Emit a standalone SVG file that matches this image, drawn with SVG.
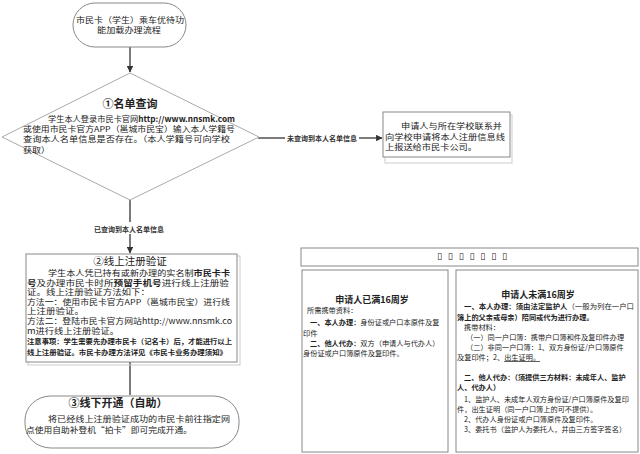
<svg xmlns="http://www.w3.org/2000/svg" width="640" height="454" viewBox="0 0 640 454">
<defs>
<style>
text{font-family:"Noto Sans CJK SC","Liberation Sans",sans-serif;fill:#222;}
.t9{font-size:8px;}
.t95{font-size:8px;}
.t7{font-size:7.2px;}
.note{font-size:7px;font-weight:bold;}
.lbl{font-size:7px;font-weight:bold;fill:#333;}
.title{font-size:11px;}
.b{font-weight:bold;}
.mid{text-anchor:middle;}
.box{fill:#fff;stroke:#888;stroke-width:1;}
.shadow{fill:none;stroke:#ccc;stroke-width:1;}
.con{stroke:#333;stroke-width:1.3;fill:none;}
</style>
<marker id="arr" viewBox="0 0 6 6" refX="5.5" refY="3" markerWidth="5" markerHeight="5" orient="auto">
<path d="M0,0 L6,3 L0,6 z" fill="#333"/>
</marker>
</defs>
<rect width="640" height="454" fill="#fff"/>

<g id="connectors">
<line class="con" x1="130" y1="47" x2="130" y2="72" marker-end="url(#arr)"/>
<line class="con" x1="258" y1="138" x2="285" y2="138"/>
<line class="con" x1="359" y1="138" x2="382" y2="138" marker-end="url(#arr)"/>
<text class="lbl" x="322" y="140.5" text-anchor="middle">未查询到本人名单信息</text>
<line class="con" x1="130" y1="200" x2="130" y2="222"/>
<line class="con" x1="130" y1="234" x2="130" y2="253" marker-end="url(#arr)"/>
<text class="lbl" x="129" y="231.5" text-anchor="middle">已查询到本人名单信息</text>
<line class="con" x1="130" y1="362" x2="130" y2="395" stroke-width="2"/>
</g>

<g id="start">
<rect class="box" x="73" y="3" width="113" height="44" rx="22" ry="22" stroke="#999"/>
<text class="t9 mid" x="130" y="23" textLength="108" lengthAdjust="spacingAndGlyphs">市民卡（学生）乘车优待功</text>
<text class="t9 mid" x="129" y="33" textLength="64" lengthAdjust="spacingAndGlyphs">能加载办理流程</text>
</g>

<g id="query">
<polygon points="130,73 259,137 130,200 2,137" fill="#fff" stroke="#aaa" stroke-width="1"/>
<text class="title b mid" x="130" y="108">①名单查询</text>
<text class="t9" x="48" y="122" textLength="187" lengthAdjust="spacingAndGlyphs">学生本人登录市民卡官网<tspan class="b">http://www.nnsmk.com</tspan></text>
<text class="t9" x="23" y="132" textLength="212" lengthAdjust="spacingAndGlyphs">或使用市民卡官方APP（邕城市民宝）输入本人学籍号</text>
<text class="t9" x="23" y="142" textLength="207" lengthAdjust="spacingAndGlyphs">查询本人名单信息是否存在。（本人学籍号可向学校</text>
<text class="t9" x="23" y="153" textLength="27" lengthAdjust="spacingAndGlyphs">获取）</text>
</g>

<g id="school">
<rect class="shadow" x="385" y="115" width="127" height="48"/>
<rect class="box" x="383" y="112" width="127" height="45"/>
<text class="t9" x="401" y="129" textLength="101" lengthAdjust="spacingAndGlyphs">申请人与所在学校联系并</text>
<text class="t9" x="385" y="140" textLength="120" lengthAdjust="spacingAndGlyphs">向学校申请将本人注册信息线</text>
<text class="t9" x="385" y="150" textLength="92" lengthAdjust="spacingAndGlyphs">上报送给市民卡公司。</text>
</g>

<g id="register">
<rect class="shadow" x="28" y="256" width="212" height="109"/>
<rect class="box" x="26" y="254" width="211" height="108"/>
<text class="mid" x="130" y="265" style="font-size:10.5px">②线上注册验证</text>
<text class="t95" x="48" y="276" textLength="182" lengthAdjust="spacingAndGlyphs">学生本人凭已持有或新办理的实名制<tspan class="b">市民卡卡</tspan></text>
<text class="t95" x="27" y="285.5" textLength="202" lengthAdjust="spacingAndGlyphs"><tspan class="b">号</tspan>及办理市民卡时所<tspan class="b">预留手机号</tspan>进行线上注册验</text>
<text class="t95" x="27" y="295" textLength="123" lengthAdjust="spacingAndGlyphs">证。线上注册验证方法如下：</text>
<text class="t95" x="27" y="304.5" textLength="203" lengthAdjust="spacingAndGlyphs">方法一：使用市民卡官方APP（邕城市民宝）进行线</text>
<text class="t95" x="27" y="314" textLength="57" lengthAdjust="spacingAndGlyphs">上注册验证。</text>
<text class="t95" x="27" y="323.5" textLength="205" lengthAdjust="spacingAndGlyphs">方法二：登陆市民卡官方网站http://www.nnsmk.co</text>
<text class="t95" x="27" y="333.5" textLength="92" lengthAdjust="spacingAndGlyphs">m进行线上注册验证。</text>
<text class="note" x="27" y="344" textLength="205" lengthAdjust="spacingAndGlyphs">注意事项：学生需要先办理市民卡（记名卡）后，才能进行以上</text>
<text class="note" x="27" y="354.5" textLength="200" lengthAdjust="spacingAndGlyphs">线上注册验证。市民卡办理方法详见《市民卡业务办理须知》</text>
</g>

<g id="activate">
<rect class="box" x="25" y="396" width="214" height="52" rx="26" ry="24" stroke="#999"/>
<text class="mid b" x="118" y="406.5" style="font-size:11px">③线下开通（自助）</text>
<text class="t9" x="48" y="422" textLength="182" lengthAdjust="spacingAndGlyphs">将已经线上注册验证成功的市民卡前往指定网</text>
<text class="t9" x="26" y="433" textLength="166" lengthAdjust="spacingAndGlyphs">点使用自助补登机“拍卡”即可完成开通。</text>
</g>

<g id="materials-header">
<rect class="box" x="301" y="248" width="337" height="18" stroke="#999" stroke-width="1.5"/>
<text x="437" y="259" style="font-family:'DejaVu Sans',sans-serif;font-size:9px" textLength="70" lengthAdjust="spacing">▯▯▯▯▯▯▯</text>
</g>

<g id="adult">
<rect class="box" x="302" y="270" width="146" height="182" stroke="#999" stroke-width="1.5"/>
<text class="mid b" x="372" y="303" style="font-size:9px">申请人已满16周岁</text>
<text class="t7" x="307" y="313">所需携带资料：</text>
<text class="t7" x="310" y="325"><tspan class="b">一、本人办理：</tspan>身份证或户口本原件及复</text>
<text class="t7" x="303" y="336">印件</text>
<text class="t7" x="310" y="346"><tspan class="b">二、他人代办：</tspan>双方（申请人与代办人）</text>
<text class="t7" x="303" y="356">身份证或户口簿原件及复印件。</text>
</g>

<g id="minor">
<rect class="box" x="456" y="270" width="182" height="182" stroke="#999" stroke-width="1.5"/>
<text class="mid b" x="538" y="298" style="font-size:9px">申请人未满16周岁</text>
<text class="t7" x="464" y="309" textLength="170" lengthAdjust="spacingAndGlyphs"><tspan class="b">一、本人办理：须由法定监护人</tspan>（一般为列在一户口</text>
<text class="t7" x="457" y="320"><tspan class="b">簿上的父亲或母亲）陪同或代为进行办理。</tspan></text>
<text class="t7" x="464" y="330">携带材料：</text>
<text class="t7" x="466" y="340">（一）同一户口簿：携带户口簿和件及复印件办理</text>
<text class="t7" x="466" y="350">（二）非同一户口簿：1、双方身份证/户口簿原件</text>
<text class="t7" x="457" y="360">及复印件；2、<tspan text-decoration="underline">出生证明。</tspan></text>
<text class="t7" x="464" y="380"><tspan class="b">二、他人代办：（须提供三方材料：未成年人、监护</tspan></text>
<text class="t7" x="457" y="390"><tspan class="b">人、代办人）</tspan></text>
<text class="t7" x="464" y="402">1、监护人、未成年人双方身份证/户口簿原件及复印</text>
<text class="t7" x="457" y="412">件，出生证明（同一户口簿上的可不提供）。</text>
<text class="t7" x="464" y="422">2、代办人身份证或户口簿原件及复印件。</text>
<text class="t7" x="464" y="432">3、委托书（监护人为委托人，并由三方签字签名）</text>
</g>
</svg>
